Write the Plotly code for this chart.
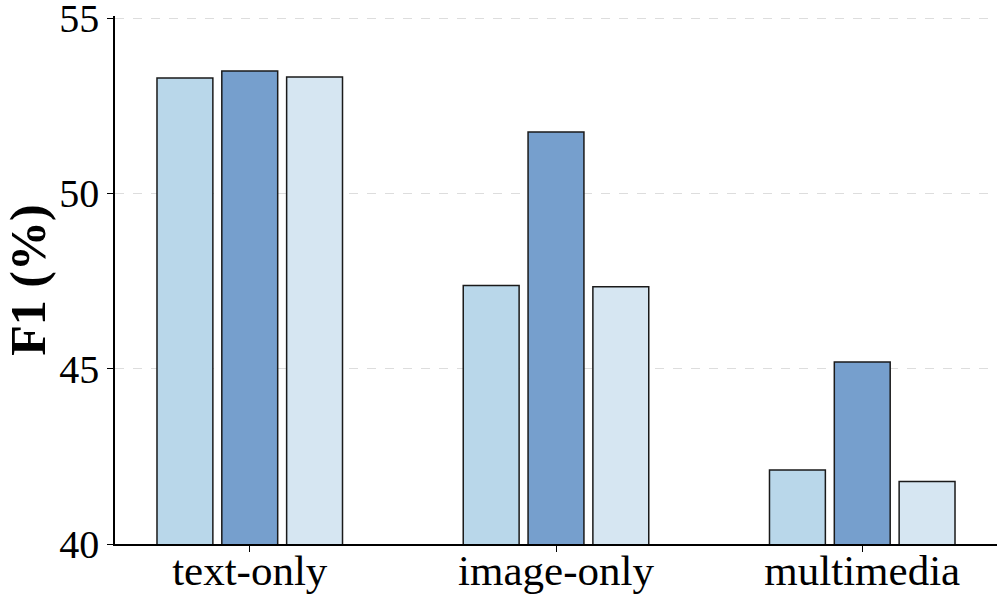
import plotly.graph_objects as go

categories = ["text-only", "image-only", "multimedia"]
series_a = [53.29, 47.37, 42.11]
series_b = [53.49, 51.75, 45.19]
series_c = [53.32, 47.34, 41.78]

colors = ["#b9d7ea", "#769fcd", "#d6e6f2"]

fig = go.Figure()
for vals, col in zip([series_a, series_b, series_c], colors):
    fig.add_trace(go.Bar(
        x=categories, y=vals, base=0,
        marker=dict(color=col, line=dict(color="#1a1a1a", width=1.5)),
        showlegend=False,
    ))

font = "Liberation Serif, Times New Roman, serif"
fig.update_layout(
    width=997, height=600,
    margin=dict(l=115, r=0, t=16, b=56),
    barmode="group", bargap=0.365, bargroupgap=0.138,
    plot_bgcolor="white", paper_bgcolor="white",
    font=dict(family=font, color="black"),
)
fig.update_xaxes(
    range=[-0.44, 2.44], showline=True, linecolor="black", linewidth=1.5,
    ticks="outside", ticklen=6, tickcolor="black", ticklabelstandoff=-18,
    tickfont=dict(size=43, family=font), showgrid=False, automargin=False,
)
fig.update_yaxes(
    range=[40, 55.06], tickvals=[40, 45, 50, 55],
    showline=True, linecolor="black", linewidth=1.5,
    ticks="outside", ticklen=6, tickcolor="black",
    tickfont=dict(size=40, family=font), ticklabeloverflow="allow",
    showgrid=True, gridcolor="#dddddd", griddash="dash", gridwidth=1,
    zeroline=False, automargin=False,
    title=dict(text="<b>F1 (%)</b>", font=dict(size=50, family=font), standoff=12),
)

# page body has a default margin; drop it so the figure sits at the corner
fig.write_html("out.html", config={"displayModeBar": False},
               post_script="document.body.style.margin='0';")
